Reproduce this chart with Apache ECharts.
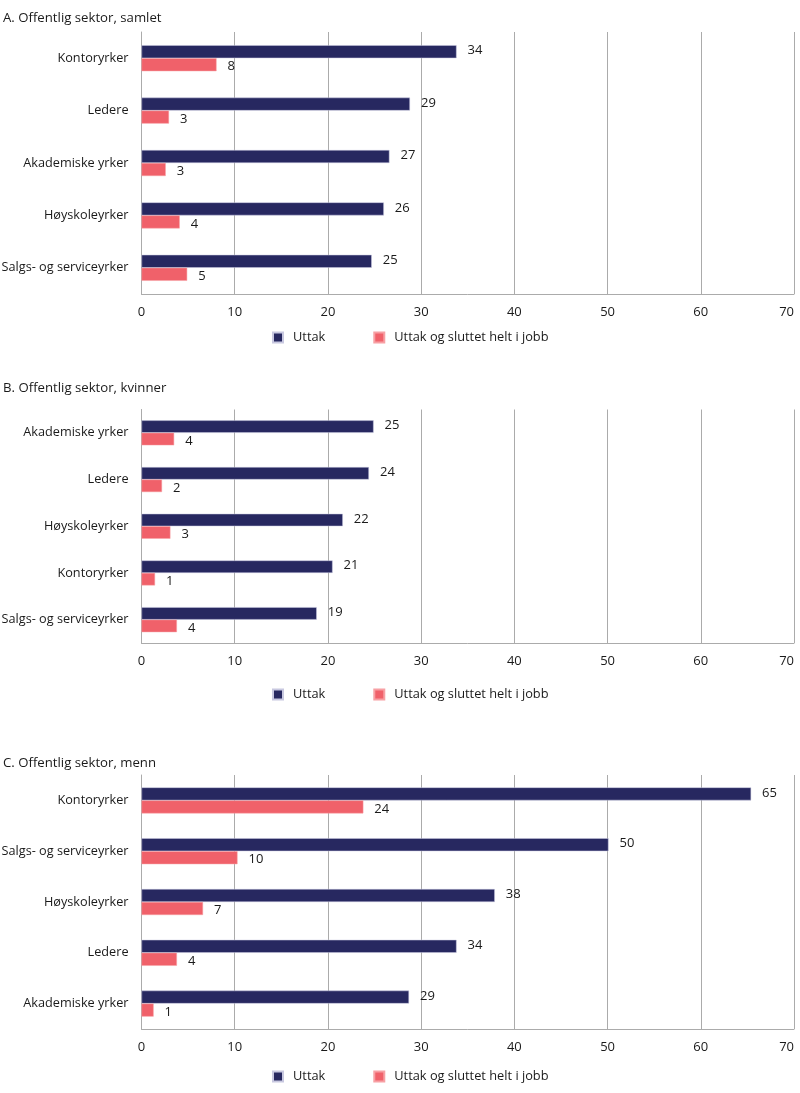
<!DOCTYPE html>
<html>
<head>
<meta charset="utf-8">
<script src="https://cdn.jsdelivr.net/npm/echarts@6/dist/echarts.min.js"></script>
<style>
html,body{margin:0;padding:0;background:#fff;}
#c{width:800px;height:1093px;}
</style>
</head>
<body>
<div id="c"></div>
<script>
// Panel titles
var titles = ['A. Offentlig sektor, samlet', 'B. Offentlig sektor, kvinner', 'C. Offentlig sektor, menn'];
var seriesNames = ['Uttak', 'Uttak og sluttet helt i jobb'];

// Panel A
var catA = ['Kontoryrker', 'Ledere', 'Akademiske yrker', 'Høyskoleyrker', 'Salgs- og serviceyrker'];
var uttakA = [33.8, 28.8, 26.6, 26.0, 24.7];
var sluttA = [8.05, 2.95, 2.6, 4.1, 4.9];

// Panel B
var catB = ['Akademiske yrker', 'Ledere', 'Høyskoleyrker', 'Kontoryrker', 'Salgs- og serviceyrker'];
var uttakB = [24.9, 24.4, 21.6, 20.5, 18.8];
var sluttB = [3.5, 2.2, 3.1, 1.45, 3.8];

// Panel C
var catC = ['Kontoryrker', 'Salgs- og serviceyrker', 'Høyskoleyrker', 'Ledere', 'Akademiske yrker'];
var uttakC = [65.4, 50.1, 37.9, 33.8, 28.7];
var sluttC = [23.8, 10.3, 6.6, 3.8, 1.3];

// Axis
var xMin = 0, xMax = 70, xInterval = 10;

var NAVY = '#272860', RED = '#f0616a', GRIDC = '#ababab', TXT = '#1a1a1a';
var FONT = 'Open Sans';

var panels = [
  {cat: catA, u: uttakA, s: sluttA, top: 32, height: 262, bw: 13, legendTop: 326, titleTop: 7},
  {cat: catB, u: uttakB, s: sluttB, top: 409.5, height: 233.5, bw: 12.5, legendTop: 683, titleTop: 377},
  {cat: catC, u: uttakC, s: sluttC, top: 775, height: 254, bw: 13, legendTop: 1065, titleTop: 752}
];

var option = {
  animation: false,
  textStyle: {fontFamily: FONT, color: TXT},
  title: [], legend: [], grid: [], xAxis: [], yAxis: [], series: []
};

panels.forEach(function (p, i) {
  option.title.push({
    text: titles[i], left: -2, top: p.titleTop,
    textStyle: {fontFamily: FONT, fontSize: 13.2, fontWeight: 'normal', color: TXT}
  });
  option.legend.push({
    data: seriesNames, left: 267, top: p.legendTop, itemWidth: 10, itemHeight: 10,
    itemGap: 48, icon: 'rect', selectedMode: false,
    textStyle: {fontFamily: FONT, fontSize: 12.8, color: TXT, padding: [0, 0, 0, 5]}
  });
  option.grid.push({left: 141.5, right: 6, top: p.top, height: p.height, containLabel: false, outerBoundsMode: 'none'});
  option.xAxis.push({
    type: 'value', gridIndex: i, min: xMin, max: xMax, interval: xInterval,
    axisLine: {show: true, lineStyle: {color: GRIDC, width: 1}},
    axisTick: {show: false},
    splitLine: {show: true, lineStyle: {color: GRIDC, width: 1}},
    axisLabel: {fontFamily: FONT, fontSize: 13, color: TXT, margin: 12, alignMaxLabel: 'right'}
  });
  option.yAxis.push({
    type: 'category', gridIndex: i, data: p.cat, inverse: true,
    axisLine: {show: true, lineStyle: {color: GRIDC, width: 1}},
    axisTick: {show: false},
    axisLabel: {fontFamily: FONT, fontSize: 12.7, color: TXT, margin: 13}
  });
  var lbl = function (off) {
    return {
      show: true, position: 'right', distance: 11, offset: [0, off],
      fontFamily: FONT, fontSize: 13, color: TXT,
      formatter: function (d) { return Math.round(d.value); }
    };
  };
  option.series.push({
    name: seriesNames[0], type: 'bar', xAxisIndex: i, yAxisIndex: i, data: p.u,
    barWidth: p.bw, barGap: '0%',
    itemStyle: {color: NAVY, borderColor: '#c8c8e0', borderWidth: 0.5},
    label: lbl(-1)
  });
  option.series.push({
    name: seriesNames[1], type: 'bar', xAxisIndex: i, yAxisIndex: i, data: p.s,
    barWidth: p.bw, barGap: '0%',
    itemStyle: {color: RED, borderColor: '#f7a0a4', borderWidth: 0.5},
    label: lbl(2)
  });
});

var chart = echarts.init(document.getElementById('c'));
chart.setOption(option);
</script>
</body>
</html>
